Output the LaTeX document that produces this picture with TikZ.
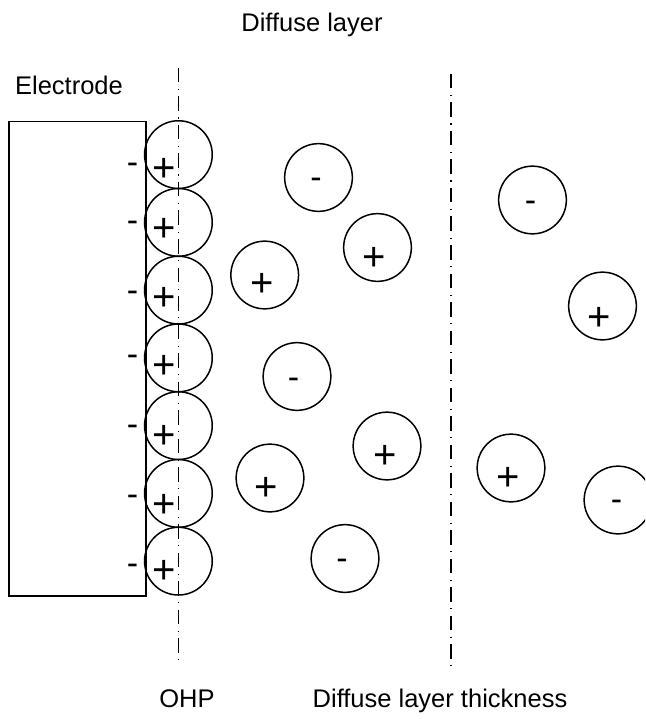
\documentclass[tikz,border=0pt]{standalone}
\usepackage{fontspec}
\setmainfont{Liberation Sans}
\usetikzlibrary{calc}

\tikzset{
  ion/.style={draw, circle, line width=1.5pt, minimum size=67.7pt, inner sep=0pt},
  plussign/.style={inner sep=0pt, anchor=base, font=\fontsize{40}{42}\selectfont},
  minussign/.style={inner sep=0pt, anchor=base, font=\fontsize{34}{36}\selectfont},
  label/.style={inner sep=0pt, anchor=base, font=\fontsize{25.5}{28}\selectfont},
  plane/.style={line width=1.1pt, dash pattern=on 14.5pt off 6.5pt on 1.2pt off 6.3pt},
  electrodebox/.style={draw, line width=1.5pt, rectangle, anchor=north west,
    minimum width=137pt, minimum height=474.3pt, inner sep=0pt}
}
% sign glyphs are placed by their baseline; these shift the given ink centre
\def\plusshift{14}
\def\minusshift{8.8}

\begin{document}
\begin{tikzpicture}[x=1pt, y=-1pt]
  \useasboundingbox (0,0) rectangle (645,719);
  \clip (0,0) rectangle (645,719);

  % electrode
  \node[electrodebox] (electrode) at (8,120.7) {};

  % planes: outer Helmholtz plane and edge of the diffuse layer
  \coordinate (ohpTop) at (178.4,68);
  \coordinate (ohpBot) at (178.4,663);
  \coordinate (dlTop) at (451,74);
  \coordinate (dlBot) at (451,667);
  \draw[plane] (ohpTop) -- (ohpBot);
  \draw[plane] (dlTop) -- (dlBot);

  % adsorbed counter-ions along the electrode surface
  \foreach \k/\ym/\yp in {0/164.5/167.5, 1/223/227, 2/293/296, 3/357/364,
                          4/427/434, 5/497/503, 6/566/569} {
    \node[ion] (h\k) at (178.4,{154.6+67.76*\k}) {};
    \node[minussign] (hm\k) at (132.5,{\ym+\minusshift}) {-};
    \node[plussign] (hp\k) at (164,{\yp+\plusshift}) {+};
  }

  % ions in the diffuse layer and bulk
  \foreach \n/\cx/\cy/\sx/\sy in {
      b/377.5/247.5/374.5/256,
      c/264.7/275/262/282,
      e/387/446/385/454,
      f/270/478/266.5/486,
      i/602.5/306/599/316,
      j/511/468/508.5/476} {
    \node[ion] (\n) at (\cx,\cy) {};
    \node[plussign] (\n s) at (\sx,{\sy+\plusshift}) {+};
  }
  \foreach \n/\cx/\cy/\sx/\sy in {
      a/318.5/177.5/316/180,
      d/297/376.5/293.5/379.5,
      g/345/558.5/342/561,
      h/532.5/200/530.5/202.5,
      k/618/500/616.5/502} {
    \node[ion] (\n) at (\cx,\cy) {};
    \node[minussign] (\n s) at (\sx,{\sy+\minusshift}) {-};
  }

  % labels
  \node[label] (diffuse) at (312,32) {Diffuse layer};
  \node[label] (electrodelabel) at (69,95) {Electrode};
  \node[label] (ohp) at (187,707) {OHP};
  \node[label] (thickness) at (440,707) {Diffuse layer thickness};
\end{tikzpicture}
\end{document}
